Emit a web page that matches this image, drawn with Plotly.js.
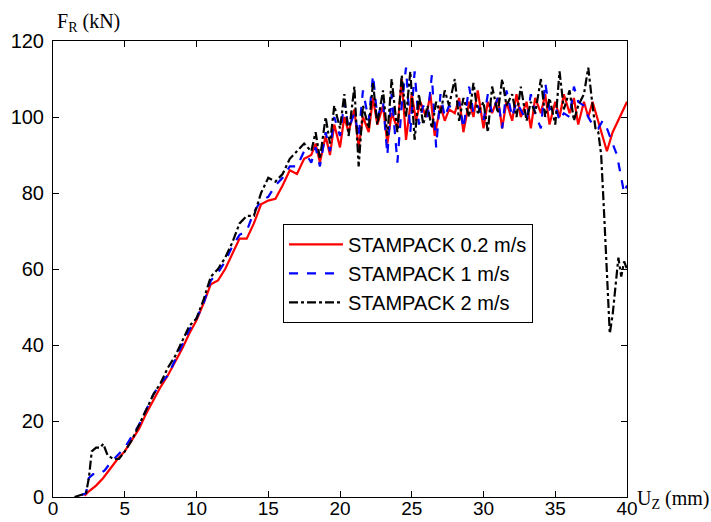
<!DOCTYPE html>
<html>
<head>
<meta charset="utf-8">
<script src="https://cdn.plot.ly/plotly-3.0.1.min.js"></script>
<style>html,body{margin:0;padding:0;background:#fff;}#chart{width:711px;height:522px;}</style>
</head>
<body>
<div id="chart"></div>
<script>
// STAMPACK 0.2 m/s
var xRed = [2.2,2.5,3,3.5,4,4.5,5,5.5,6,6.5,7,7.5,8,8.5,9,9.5,10,10.5,11,11.5,12,12.5,13,13.5,14,14.5,15,15.5,16,16.5,17,17.5,
  18,18.3,18.6,19,19.3,19.6,20,20.3,20.6,21,21.3,21.6,22,22.3,22.6,23,23.3,23.6,24,24.3,24.6,25,25.3,25.6,26,26.3,26.6,27,27.3,27.6,
  28,28.3,28.6,29,29.3,29.6,30,30.3,30.6,31,31.3,31.6,32,32.3,32.6,33,33.3,33.6,34,34.3,34.6,35,35.3,35.6,36,36.3,36.6,37,37.3,37.6,
  38,38.3,38.6,39,39.5,40];
var yRed = [0.3,1.5,3,5,7.5,10,12,15,18,22,25.5,29,32,35.5,39,43,46.5,51,56,57,60,64,68,68,72,77,78,78.5,82,86,85,89,
  90,93,88,95,90,98,92,100,96,102,92,100,96,105,98,103,93,101,97,110,94,106,99,104,100,106,95,103,99,102,
  101,105,96,104,100,107,97,104,101,105,97,104,99,106,100,104,97,105,101,106,98,104,100,106,101,105,98,104,100,104,
  99,95,91,96,100,104];

// STAMPACK 1 m/s
var xBlue = [2,2.3,2.5,2.8,3.2,3.6,4,4.5,5,5.5,6,6.5,7,7.5,8,8.5,9,9.5,10,10.5,11,11.5,12,12.5,13,13.5,14,14.5,15,15.5,16,16.5,17,17.5,
  18,18.3,18.6,19,19.3,19.6,20,20.3,20.6,21,21.3,21.6,22,22.3,22.6,23,23.3,23.6,24,24.3,24.6,24.9,25.2,25.5,25.8,26.1,26.4,26.7,27,27.3,27.6,
  28,28.3,28.6,29,29.3,29.6,30,30.3,30.6,31,31.3,31.6,32,32.3,32.6,33,33.3,33.6,34,34.3,34.6,35,35.3,35.6,36,36.3,36.6,37,37.3,37.6,
  38,38.3,38.6,39,39.3,39.6,39.8,40];
var yBlue = [0.5,1,5,6,6,7,9,11,13,16,19,23,27,30,32,36,40,44,47,51,57,59,62,66,69,70,75,78,79,82,84,87,87,91,
  88,92,87,96,91,100,95,104,97,101,95,107,99,111,100,104,90,106,88,103,113,96,112,98,103,100,111,92,106,100,103,
  102,104,97,108,101,103,99,106,101,105,97,107,100,104,102,99,106,101,97,109,102,103,99,101,100,108,104,103,100,98,
  97,99,97,93,90,84,80,82];

// STAMPACK 2 m/s
var xBlack = [1.5,2,2.3,2.5,2.7,3,3.3,3.5,3.8,4.2,4.6,5,5.5,6,6.5,7,7.5,8,8.5,9,9.5,10,10.5,11,11.5,12,12.5,13,13.5,14,14.5,15,15.5,16,16.5,17,17.5,
  18,18.3,18.6,19,19.3,19.6,20,20.3,20.6,21,21.3,21.6,22,22.3,22.6,23,23.3,23.6,24,24.3,24.6,24.9,25.2,25.5,25.8,26.1,26.4,26.7,27,27.3,27.6,
  28,28.3,28.6,29,29.3,29.6,30,30.3,30.6,31,31.3,31.6,32,32.3,32.6,33,33.3,33.6,34,34.3,34.6,35,35.3,35.6,36,36.3,36.6,37,37.3,37.6,37.8,
  38,38.2,38.4,38.6,38.8,39,39.2,39.4,39.6,39.8,40];
var yBlack = [0,0.5,1,5,12,13,13,14,11,10,10,12,15,19,23,27,30,34,37,41,45,47,52,58,60,63,67,72,74,74,80,84,83,85,89,91,93,
  91,96,89,100,93,103,97,106,95,108,87,103,97,109,98,107,95,110,96,111,100,112,94,106,98,103,97,104,101,107,103,
  110,99,105,100,109,101,104,96,108,101,110,103,106,100,108,99,104,101,110,100,105,98,112,102,107,99,103,106,113,103,97,
  96,90,75,58,43,48,55,63,58,62,60];

var names = ['STAMPACK 0.2 m/s','STAMPACK 1 m/s','STAMPACK 2 m/s'];
var xTicks = [0,5,10,15,20,25,30,35,40];
var yTicks = [0,20,40,60,80,100,120];

var traces = [
  {x:xRed, y:yRed, name:names[0], type:'scatter', mode:'lines', line:{color:'#ff0000', width:2.2, dash:'solid'}},
  {x:xBlue, y:yBlue, name:names[1], type:'scatter', mode:'lines', line:{color:'#0000ff', width:2.2, dash:'dash'}},
  {x:xBlack, y:yBlack, name:names[2], type:'scatter', mode:'lines', line:{color:'#000000', width:2.2, dash:'dashdot'}}
];

var axisCommon = {
  showgrid:false, zeroline:false, showline:true, linecolor:'#000', linewidth:1,
  mirror:'ticks', ticks:'inside', ticklen:6, tickcolor:'#000', tickwidth:1,
  tickfont:{family:'Liberation Sans, Arial, sans-serif', size:20, color:'#000'}
};

var layout = {
  width:711, height:522,
  margin:{l:53, r:84, t:41, b:25, pad:0},
  paper_bgcolor:'#fff', plot_bgcolor:'#fff',
  showlegend:true,
  legend:{x:0.4007, y:0.599, xanchor:'left', yanchor:'top',
    bgcolor:'#fff', bordercolor:'#000', borderwidth:1,
    font:{family:'Liberation Sans, Arial, sans-serif', size:20, color:'#000'},
    itemwidth:54, tracegroupgap:0},
  xaxis:Object.assign({}, axisCommon, {range:[0,40], tickvals:xTicks, ticklabelstandoff:-6,
    tickfont:{family:'Liberation Sans, Arial, sans-serif', size:19, color:'#000'}}),
  yaxis:Object.assign({}, axisCommon, {range:[0,120], tickvals:yTicks, ticklabelstandoff:4}),
  annotations:[
    {xref:'paper', yref:'paper', x:0.003, y:1.0, xanchor:'left', yanchor:'bottom', yshift:4, showarrow:false,
     text:'F<sub>R</sub> (kN)', font:{family:'Liberation Serif, Times New Roman, serif', size:20, color:'#000'}},
    {xref:'paper', yref:'paper', x:1.0, y:0.0, xanchor:'left', yanchor:'bottom', xshift:8, yshift:-17, showarrow:false,
     text:'U<sub>Z</sub> (mm)', font:{family:'Liberation Serif, Times New Roman, serif', size:20, color:'#000'}}
  ]
};

Plotly.newPlot('chart', traces, layout, {displayModeBar:false, staticPlot:true});
</script>
</body>
</html>
